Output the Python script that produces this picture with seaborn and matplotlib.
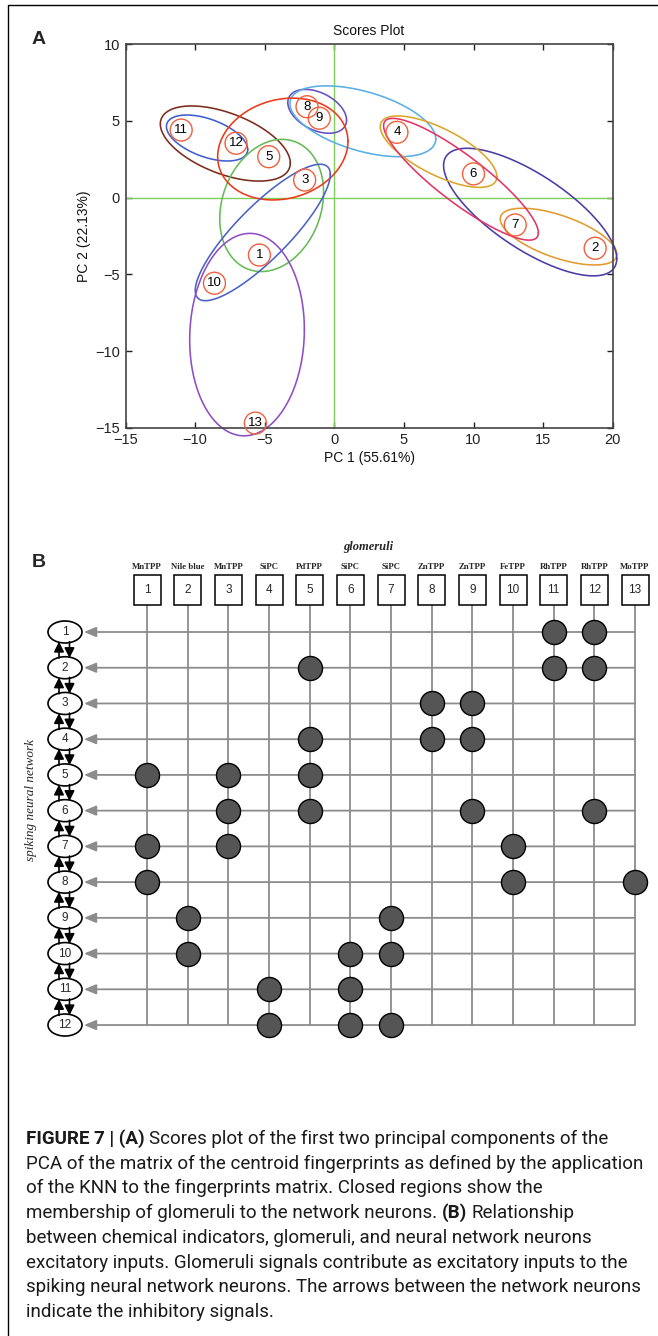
import numpy as np
import pandas as pd
import matplotlib
matplotlib.use("Agg")
import matplotlib.pyplot as plt
import seaborn as sns
from matplotlib.patches import Ellipse, Rectangle
from matplotlib.lines import Line2D
from matplotlib import font_manager as fm

# ---------------- Panel A data (PCA scores) ----------------
glom_ids = ["1", "2", "3", "4", "5", "6", "7", "8", "9", "10", "11", "12", "13"]
pc1 = [-5.38, 18.74, -2.13, 4.5, -4.71, 10.0, 13.0, -1.96, -1.08, -8.61, -11.0, -7.06, -5.67]
pc2 = [-3.74, -3.3, 1.15, 4.26, 2.67, 1.55, -1.78, 5.93, 5.18, -5.58, 4.41, 3.55, -14.7]

# membership regions (one per network neuron): centre, half-extents, tilt (correlation)
ell_cx = [-9.14, -7.83, -1.23, 2.05, -4.5, -3.7, -5.14, -6.27, 16.11, 14.07, 7.49, 9.1]
ell_cy = [3.89, 3.53, 5.63, 4.98, -0.51, 3.17, -2.27, -8.93, -2.54, -0.94, 3.0, 1.2]
ell_wx = [2.92, 4.67, 2.11, 5.24, 3.73, 4.68, 4.85, 4.12, 4.19, 6.22, 4.19, 5.56]
ell_wy = [1.5, 2.45, 1.43, 2.31, 4.31, 3.32, 4.45, 6.6, 1.85, 4.16, 2.33, 3.97]
ell_rho = [-0.5, -0.52, -0.4, -0.5, 0.2, 0.15, 0.85, 0.05, -0.62, -0.73, -0.7, -0.88]
ell_colors = ["#3f5fcf", "#7b2c1c", "#6650c0", "#5aaee6", "#66bb55", "#ea3a1a",
              "#4a62c8", "#8e4ec6", "#e39a2e", "#4a3ca6", "#dba527", "#e33468"]

xticks_a = [-15, -10, -5, 0, 5, 10, 15, 20]
yticks_a = [-15, -10, -5, 0, 5, 10]

# ---------------- Panel B data (network) ----------------
chem_labels = ["MnTPP", "Nile blue", "MnTPP", "SiPC", "PdTPP", "SiPC", "SiPC",
               "ZnTPP", "ZnTPP", "FeTPP", "RhTPP", "RhTPP", "MoTPP"]
glom_cols = list(range(1, 14))
neurons = list(range(1, 13))
membership = {
    1: [11, 12], 2: [5, 11, 12], 3: [8, 9], 4: [5, 8, 9],
    5: [1, 3, 5], 6: [3, 5, 9, 12], 7: [1, 3, 10], 8: [1, 10, 13],
    9: [2, 7], 10: [2, 6, 7], 11: [4, 6], 12: [4, 6, 7],
}

caption_lines = [
    [("FIGURE 7 | (A)", "bold"), ("Scores plot of the first two principal components of the", "normal")],
    [("PCA of the matrix of the centroid fingerprints as defined by the application", "normal")],
    [("of the KNN to the fingerprints matrix. Closed regions show the", "normal")],
    [("membership of glomeruli to the network neurons.", "normal"), ("(B)", "bold"), ("Relationship", "normal")],
    [("between chemical indicators, glomeruli, and neural network neurons", "normal")],
    [("excitatory inputs. Glomeruli signals contribute as excitatory inputs to the", "normal")],
    [("spiking neural network neurons. The arrows between the network neurons", "normal")],
    [("indicate the inhibitory signals.", "normal")],
]

# ---------------- style ----------------
sns.set_theme(style="white")
plt.rcParams["font.family"] = ["Liberation Sans", "DejaVu Sans"]
plt.rcParams["axes.unicode_minus"] = True

W, H = 658, 1336
fig = plt.figure(figsize=(W / 100, H / 100), dpi=100)
fig.patch.set_facecolor("white")


def fx(px):
    return px / W


def fy(py):
    return 1 - py / H


# outer frame (left and top)
fig.add_artist(Line2D([fx(7.5), fx(7.5), 1.0], [0.0, fy(5), fy(5)],
                      transform=fig.transFigure, color="black", lw=1.0))

# ================= Panel A =================
axA = fig.add_axes([fx(125.5), fy(427.7), (612.7 - 125.5) / W, (427.7 - 44.3) / H])
axA.axvline(0, color="#80cf5c", lw=1.0, zorder=1)
axA.axhline(0, color="#80cf5c", lw=1.0, zorder=1)

t = np.linspace(0, 2 * np.pi, 400)
for cx, cy, wx, wy, rho, col in zip(ell_cx, ell_cy, ell_wx, ell_wy, ell_rho, ell_colors):
    ex = cx + wx * np.cos(t)
    ey = cy + wy * (rho * np.cos(t) + np.sqrt(1 - rho ** 2) * np.sin(t))
    axA.plot(ex, ey, color=col, lw=1.15, zorder=2, clip_on=False)

dfA = pd.DataFrame({"PC1": pc1, "PC2": pc2, "id": glom_ids})
sns.scatterplot(data=dfA, x="PC1", y="PC2", ax=axA, s=250, facecolor="none",
                edgecolor="#f0603c", linewidth=1.0, zorder=3, clip_on=False, legend=False)
for _, r in dfA.iterrows():
    axA.text(r.PC1, r.PC2, r.id, ha="center", va="center", fontsize=9.5,
             color="black", zorder=4, clip_on=False)

axA.set_xlim(-15, 20)
axA.set_ylim(-15, 10)
axA.set_xticks(xticks_a)
axA.set_yticks(yticks_a)
axA.tick_params(direction="in", bottom=True, left=True, top=True, right=True,
                length=4, width=1, labelsize=10.5, colors="#222222", pad=4)
for sp in axA.spines.values():
    sp.set_visible(True)
    sp.set_color("#444444")
    sp.set_linewidth(1.2)
axA.set_xlabel("PC 1 (55.61%)", fontsize=10, labelpad=3, color="#111111")
axA.set_ylabel("PC 2 (22.13%)", fontsize=10, labelpad=3, color="#111111")
axA.set_title("Scores Plot", fontsize=10, pad=7, color="#111111")

fig.text(fx(39), fy(40), "A", fontsize=14, fontweight="bold", ha="center", va="center")

# ================= Panel B =================
col_px, col_step = 147.0, 40.67
row_py, row_step = 632.0, 35.73


def cx_(px):
    return 1 + (px - col_px) / col_step


def ry_(py):
    return 1 + (py - row_py) / row_step


axB = fig.add_axes([0, fy(1060), 1, 530 / H])
axB.set_xlim(cx_(0), cx_(W))
axB.set_ylim(ry_(1060), ry_(530))
axB.axis("off")

gray = "#8c8c8c"
box_top, box_bot = ry_(575), ry_(605)
box_w = 27 / col_step
neuron_x = cx_(65)
arrow_tip = cx_(84)

for c in glom_cols:
    axB.plot([c, c], [box_bot, neurons[-1]], color=gray, lw=1.3, zorder=1,
             solid_capstyle="butt")
for r in neurons:
    axB.annotate("", xy=(arrow_tip, r), xytext=(glom_cols[-1], r),
                 arrowprops=dict(arrowstyle="-|>,head_length=0.6,head_width=0.25",
                                 color=gray, lw=1.3, shrinkA=0, shrinkB=0), zorder=1)

for c, lab in zip(glom_cols, chem_labels):
    axB.add_patch(Rectangle((c - box_w / 2, box_top), box_w, box_bot - box_top,
                            fc="white", ec="black", lw=1.1, zorder=3))
    axB.text(c, (box_top + box_bot) / 2, str(c), ha="center", va="center",
             fontsize=8.5, zorder=4)
    axB.text(c, ry_(567), lab, ha="center", va="center", fontsize=6.3,
             family=["Liberation Serif", "DejaVu Serif"], fontweight="bold", zorder=4)

axB.text(6.45, ry_(547), "glomeruli", ha="center", va="center", fontsize=9,
         family=["Liberation Serif", "DejaVu Serif"], style="italic", fontweight="bold")

for r in neurons:
    axB.add_patch(Ellipse((neuron_x, r), 34 / col_step, 22 / row_step,
                          fc="white", ec="black", lw=1.2, zorder=3))
    axB.text(neuron_x, r, str(r), ha="center", va="center", fontsize=8.5, zorder=4)

up_x, down_x = cx_(59), cx_(69.5)
for r in neurons[:-1]:
    axB.annotate("", xy=(up_x, r + 0.27), xytext=(up_x, r + 0.73),
                 arrowprops=dict(arrowstyle="-|>,head_length=0.5,head_width=0.25",
                                 color="black", lw=1.2, shrinkA=0, shrinkB=0), zorder=5)
    axB.annotate("", xy=(down_x, r + 0.73), xytext=(down_x, r + 0.27),
                 arrowprops=dict(arrowstyle="-|>,head_length=0.5,head_width=0.25",
                                 color="black", lw=1.2, shrinkA=0, shrinkB=0), zorder=5)

dfB = pd.DataFrame([(n, g) for n, gl in membership.items() for g in gl],
                   columns=["neuron", "glom"])
sns.scatterplot(data=dfB, x="glom", y="neuron", ax=axB, s=300, color="#555555",
                edgecolor="black", linewidth=1.0, zorder=6, legend=False, clip_on=False)
axB.set_xlim(cx_(0), cx_(W))
axB.set_ylim(ry_(1060), ry_(530))
axB.axis("off")

fig.text(fx(39), fy(563), "B", fontsize=14, fontweight="bold", ha="center", va="center")
fig.text(fx(31), fy(800), "spiking neural network", rotation=90, ha="center", va="center",
         fontsize=9.5, family=["Liberation Serif", "DejaVu Serif"], style="italic")

# ================= Caption =================
names = set(fm.get_font_names())
cap_family = ["Liberation Sans Narrow"] if "Liberation Sans Narrow" in names else ["Roboto"]
cap_family = cap_family + ["DejaVu Sans"]

renderer = fig.canvas.get_renderer()
probe = fig.text(0, 0, caption_lines[1][0][0], fontsize=10, family=cap_family)
w10 = probe.get_window_extent(renderer).width
probe.remove()
cap_fs = 10 * 619 / w10


def space_w(weight):
    a = fig.text(0, 0, "x x", fontsize=cap_fs, family=cap_family, fontweight=weight)
    b = fig.text(0, 0, "xx", fontsize=cap_fs, family=cap_family, fontweight=weight)
    d = a.get_window_extent(renderer).width - b.get_window_extent(renderer).width
    a.remove(); b.remove()
    return d


sp_w = space_w("normal")
for i, runs in enumerate(caption_lines):
    y_center = 1138 + i * 24.7
    x = 26.0
    for j, (txt, weight) in enumerate(runs):
        tt = fig.text(fx(x), fy(y_center + 6), txt, fontsize=cap_fs, family=cap_family,
                      fontweight=weight, ha="left", va="baseline", color="#1a1a1a")
        x += tt.get_window_extent(renderer).width + sp_w

fig.savefig("out.png", dpi=100, facecolor="white")
